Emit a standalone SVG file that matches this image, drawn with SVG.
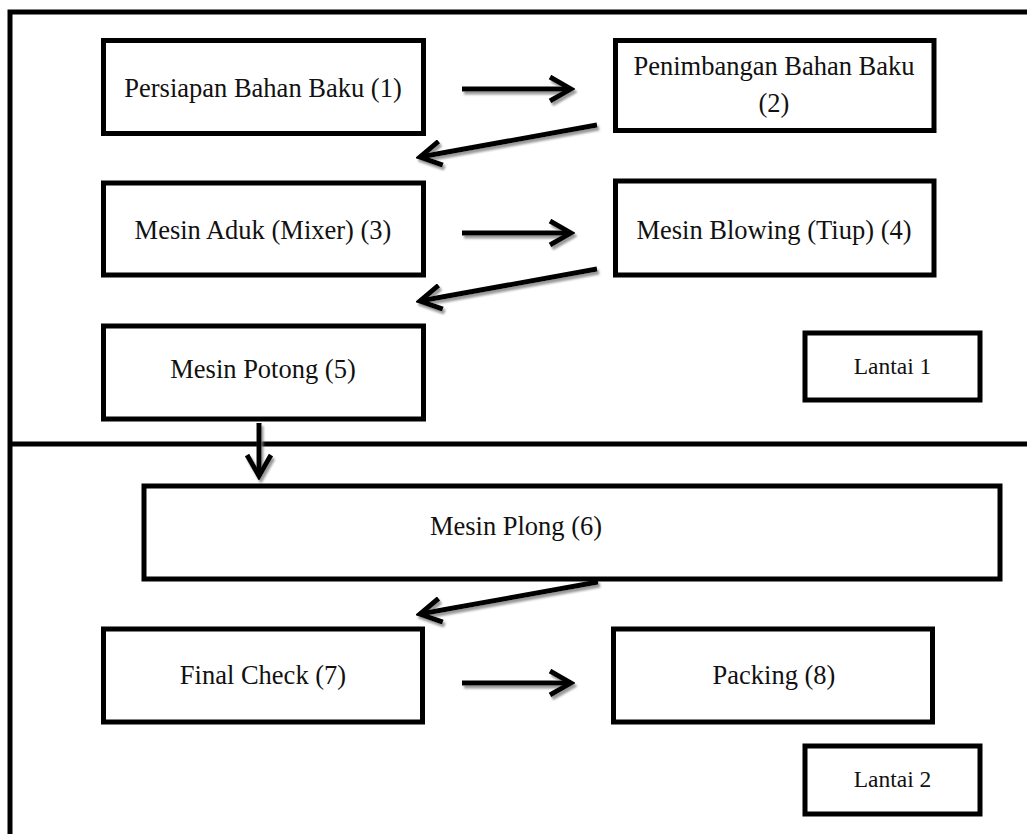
<svg xmlns="http://www.w3.org/2000/svg" width="1027" height="834" viewBox="0 0 1027 834">
  <style>
    .frame { fill: none; stroke: #000; stroke-width: 5; }
    .box { fill: #fff; stroke: #000; stroke-width: 5; }
    .lbl { font-family: "Liberation Serif", "Times New Roman", serif; font-size: 26.5px; fill: #111; text-anchor: middle; }
    .floor { font-family: "Liberation Serif", "Times New Roman", serif; font-size: 23.5px; fill: #111; text-anchor: middle; }
    .arrow { fill: none; stroke: #000; stroke-width: 5; marker-end: url(#head); filter: url(#shade); }
  </style>
  <defs>
    <marker id="head" viewBox="-24 -14 28 28" refX="0" refY="0" markerWidth="28" markerHeight="28" markerUnits="userSpaceOnUse" orient="auto">
      <path d="M-21,-12 L0,0 L-21,12" fill="none" stroke="#000" stroke-width="5" stroke-linejoin="miter"/>
    </marker>
    <!-- soft grey drop shadow; user-space region so straight lines are not clipped away -->
    <filter id="shade" filterUnits="userSpaceOnUse" x="0" y="0" width="1027" height="834">
      <feDropShadow dx="2" dy="3" stdDeviation="1" flood-color="#808080" flood-opacity="0.8"/>
    </filter>
  </defs>

  <!-- floor frame and divider -->
  <g id="frame">
    <path class="frame" d="M10,834 V12 H1027"/>
    <line class="frame" x1="10" y1="444" x2="1027" y2="444"/>
  </g>

  <!-- connectors -->
  <g id="connectors">
    <line class="arrow" x1="462" y1="89" x2="571" y2="89"/>
    <line class="arrow" x1="597" y1="125" x2="420" y2="157"/>
    <line class="arrow" x1="462" y1="233" x2="571" y2="233"/>
    <line class="arrow" x1="597" y1="269" x2="420" y2="301"/>
    <line class="arrow" x1="259" y1="423" x2="259" y2="476"/>
    <line class="arrow" x1="598" y1="582" x2="420" y2="614"/>
    <line class="arrow" x1="462" y1="683" x2="571" y2="683"/>
  </g>

  <!-- process steps -->
  <g id="n1">
    <rect class="box" x="103.5" y="40.5" width="320" height="93"/>
    <text class="lbl" x="263" y="97">Persiapan Bahan Baku (1)</text>
  </g>
  <g id="n2">
    <rect class="box" x="615.5" y="40.5" width="318.5" height="90"/>
    <text class="lbl" x="774" y="75">Penimbangan Bahan Baku</text>
    <text class="lbl" x="774" y="112">(2)</text>
  </g>
  <g id="n3">
    <rect class="box" x="103.5" y="183" width="320" height="92"/>
    <text class="lbl" x="263" y="239">Mesin Aduk (Mixer) (3)</text>
  </g>
  <g id="n4">
    <rect class="box" x="615.5" y="181" width="318.5" height="94"/>
    <text class="lbl" x="774" y="239">Mesin Blowing (Tiup) (4)</text>
  </g>
  <g id="n5">
    <rect class="box" x="103.5" y="326" width="320" height="93"/>
    <text class="lbl" x="263" y="378">Mesin Potong (5)</text>
  </g>
  <g id="n6">
    <rect class="box" x="144" y="486" width="856" height="93"/>
    <text class="lbl" x="516" y="535">Mesin Plong (6)</text>
  </g>
  <g id="n7">
    <rect class="box" x="103.5" y="629" width="319" height="93"/>
    <text class="lbl" x="263" y="684">Final Check (7)</text>
  </g>
  <g id="n8">
    <rect class="box" x="613.5" y="629" width="319" height="93"/>
    <text class="lbl" x="774" y="684">Packing (8)</text>
  </g>

  <!-- floor labels -->
  <g id="lantai1">
    <rect class="box" x="805" y="333" width="175" height="67"/>
    <text class="floor" x="892.5" y="374">Lantai 1</text>
  </g>
  <g id="lantai2">
    <rect class="box" x="805" y="746" width="175" height="68"/>
    <text class="floor" x="892.5" y="787">Lantai 2</text>
  </g>
</svg>
